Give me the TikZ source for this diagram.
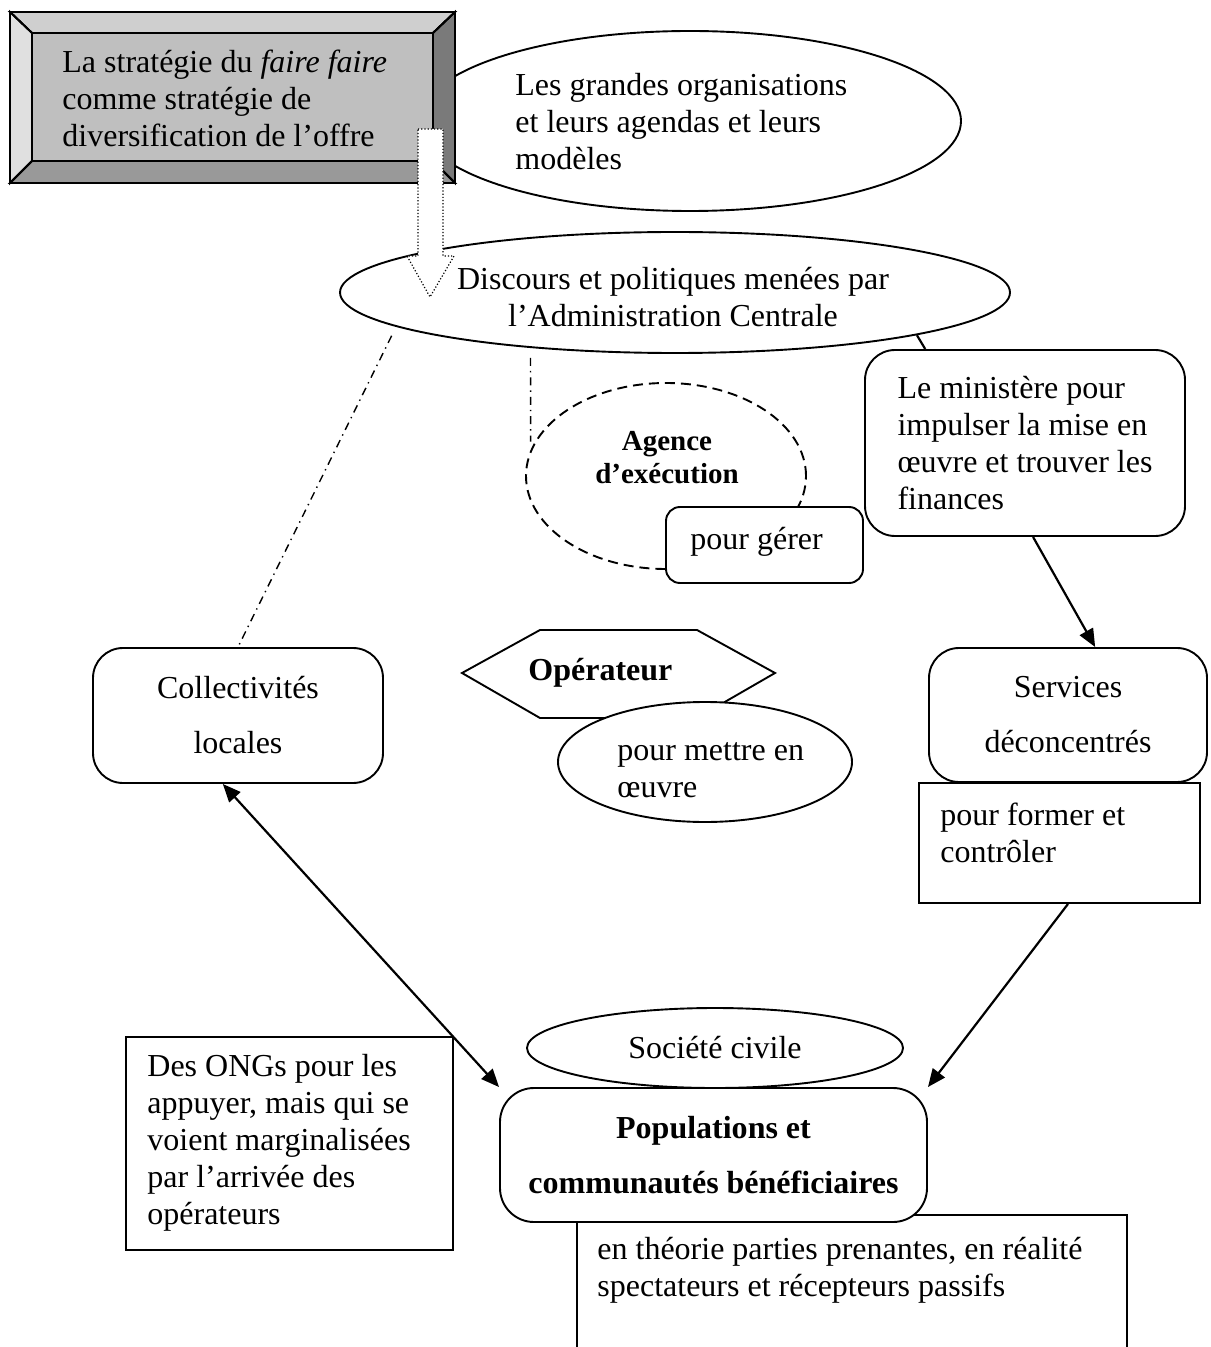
\documentclass[tikz,border=0pt]{standalone}
\usepackage{fontspec}
\setmainfont{Liberation Serif}
\usetikzlibrary{shapes.geometric, arrows.meta, calc}
\begin{document}
\begin{tikzpicture}[x=0.5pt, y=-0.5pt,
  base/.style={font=\fontsize{16}{18.5}\selectfont, inner sep=0pt},
  txt/.style={base, align=left},
  ctxt/.style={base, align=center},
  wtxt/.style={base, align=center, font=\fontsize{16}{27.5}\selectfont},
  btxt/.style={base, align=center, font=\fontsize{16}{27.5}\selectfont\bfseries},
  shapeline/.style={line width=0.95pt},
  oval/.style={ellipse, draw, shapeline, fill=white, inner sep=0pt},
  rbox/.style={draw, shapeline, rounded corners=15pt, fill=white, inner sep=0pt},
  sbox/.style={draw, shapeline, fill=white, inner sep=0pt},
  link/.style={line width=1.1pt},
  tip/.tip={Triangle[length=9pt,width=7.5pt]},
  arr/.style={link, -tip},
  dashdot/.style={line width=0.7pt, dash pattern=on 4pt off 2.5pt on 0.7pt off 2.5pt},
  bevel/.style={shapeline, draw=black}
]
\useasboundingbox (0,0) rectangle (1210,1347);

% big organisations ellipse (behind the bevel box)
\node[oval, minimum width=271pt, minimum height=90pt] (org) at (690,121) {};

% bevel box
\fill[bevel, fill=black!19] (10,12) -- (455,12) -- (433,33) -- (32,33) -- cycle;
\fill[bevel, fill=black!12] (10,12) -- (32,33) -- (32,161) -- (10,183) -- cycle;
\fill[bevel, fill=black!52] (455,12) -- (455,183) -- (433,161) -- (433,33) -- cycle;
\fill[bevel, fill=black!40] (10,183) -- (455,183) -- (433,161) -- (32,161) -- cycle;
\fill[fill=black!25] (32,33) rectangle (433,161);
\draw[bevel] (10,12) rectangle (455,183);
\draw[bevel] (32,33) rectangle (433,161);
\draw[bevel] (10,12) -- (32,33) (455,12) -- (433,33) (455,183) -- (433,161) (10,183) -- (32,161);
\node[txt, anchor=west] (strat) at (62,98) {La stratégie du \textit{faire faire}\\comme stratégie de\\diversification de l’offre};

\node[txt, anchor=west] (orgtxt) at (515,122) {Les grandes organisations\\et leurs agendas et leurs\\modèles};

% central administration
\node[oval, minimum width=335pt, minimum height=60.5pt] (disc) at (675,292.5) {};
\node[ctxt] (disctxt) at (673,297) {Discours et politiques menées par\\l’Administration Centrale};

% dotted down arrow
\draw[line width=0.6pt, densely dotted, fill=white] (418,129) -- (443,129) -- (443,256) -- (454,256) -- (430,297) -- (407,256) -- (418,256) -- cycle;

% ministry
\node[rbox, txt, minimum width=160pt, minimum height=93pt] (mini) at (1025,443)
  {Le ministère pour\\impulser la mise en\\œuvre et trouver les\\finances};

% agency
\node[oval, dashed, dash pattern=on 5pt off 3pt, minimum width=140pt, minimum height=93pt] (agence) at (666,476) {};
\node[base, align=center, font=\fontsize{14.5}{16.5}\selectfont\bfseries] (agtxt) at (667,458) {Agence\\d’exécution};
\node[rbox, rounded corners=7pt, minimum width=98.5pt, minimum height=38pt] (gerer) at (764.5,545) {};
\node[txt, anchor=west] (gerertxt) at (690,542) {pour gérer};

% operator
\draw[shapeline, fill=white] (462,673) -- (540,630) -- (697,630) -- (775,673) -- (697,718) -- (540,718) -- cycle;
\node[base, anchor=west, font=\fontsize{16}{18.5}\selectfont\bfseries] (oper) at (528,673) {Opérateur};
\node[oval, minimum width=147pt, minimum height=60pt] (mettre) at (705,762) {};
\node[txt, anchor=west] (mettretxt) at (617,770) {pour mettre en\\œuvre};

% local authorities
\node[rbox, wtxt, minimum width=145pt, minimum height=67.5pt] (coll) at (238,715.5) {Collectivités\\locales};

% deconcentrated services
\node[rbox, wtxt, minimum width=139pt, minimum height=67pt] (serv) at (1068,715) {Services\\déconcentrés};
\node[sbox, minimum width=140.5pt, minimum height=60pt] (former) at (1059.5,843) {};
\node[txt, anchor=west] (formertxt) at (940,833) {pour former et\\contrôler};

% NGOs
\node[sbox, minimum width=163.5pt, minimum height=106.5pt] (ong) at (289.5,1143.5) {};
\node[txt, anchor=west] (ongtxt) at (147,1143) {Des ONGs pour les\\appuyer, mais qui se\\voient marginalisées\\par l’arrivée des\\opérateurs};

% populations
\node[sbox, minimum width=275pt, minimum height=80pt] (theo) at (852,1295) {};
\node[txt, anchor=west] (theotxt) at (597,1270) {en théorie parties prenantes, en réalité\\spectateurs et récepteurs passifs};
\node[rbox, btxt, rounded corners=17pt, minimum width=213.5pt, minimum height=67pt] (pop) at (713.5,1155) {Populations et\\communautés bénéficiaires};
\node[oval, ctxt, minimum width=188pt, minimum height=40pt] (soc) at (715,1048) {Société civile};

% connectors
\draw[dashdot, shorten <=5pt] (disc.187) -- (coll.north);
\draw[dashdot, shorten <=5pt, shorten >=4pt] (disc.201) -- (agence.169);
\draw[link] (disc.350) -- ($(mini.north west)!0.19!(mini.north east)$);
\draw[arr] ($(mini.south west)!0.525!(mini.south east)$) -- ($(serv.north west)!0.597!(serv.north east)$);
\draw[arr] ($(former.south west)!0.53!(former.south east)$) -- (pop.north east);
\draw[link, tip-tip] ($(coll.south west)!0.448!(coll.south east)$) -- (pop.north west);
\end{tikzpicture}
\end{document}
